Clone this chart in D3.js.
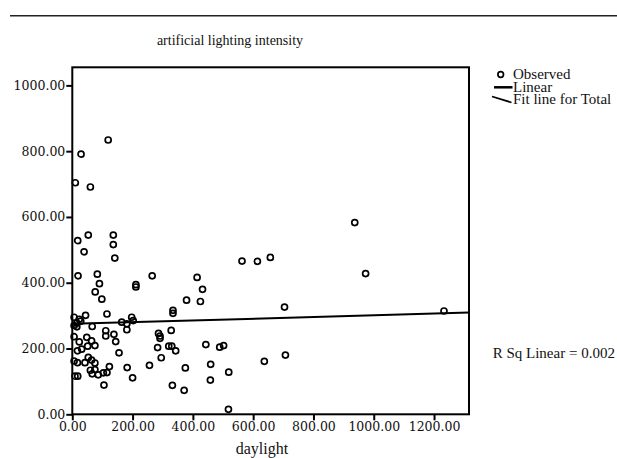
<!DOCTYPE html>
<html>
<head>
<meta charset="utf-8">
<script src="https://cdn.jsdelivr.net/npm/d3@7"></script>
<style>
  body { margin: 0; background: #fff; }
  text { font-family: 'Liberation Serif', serif; fill: #111; }
  .axis text { font-family: 'DejaVu Serif', serif; }
</style>
</head>
<body>
<div id="chart-1"></div>
<script>
// daylight (x) vs artificial lighting intensity (y)
const daylight = [
  119, 29, 10, 60, 18, 53, 136, 136, 39, 141,
  563, 614, 657, 937, 973, 19, 83, 265, 90, 211,
  211, 414, 432, 76, 98, 379, 425, 115, 334, 334,
  704, 1233, 6, 23, 44, 28, 15, 6, 15, 66,
  164, 181, 197, 202, 181, 111, 111, 138, 144, 6,
  23, 48, 64, 75, 31, 51, 17, 155, 6, 17,
  42, 53, 64, 75, 60, 66, 75, 86, 103, 115,
  123, 9, 18, 105, 182, 200, 256, 286, 291, 291,
  328, 283, 320, 330, 343, 295, 332, 371, 375, 443,
  489, 502, 459, 458, 519, 637, 707, 518
]
const artificial = [
  834, 791, 704, 691, 528, 545, 545, 516, 494, 475,
  466, 465, 477, 583, 428, 421, 426, 421, 397, 394,
  387, 416, 380, 372, 350, 347, 343, 305, 316, 307,
  326, 314, 295, 289, 301, 283, 277, 270, 266, 267,
  280, 275, 295, 285, 257, 254, 238, 243, 221, 236,
  220, 234, 223, 209, 198, 207, 193, 187, 162, 157,
  157, 173, 165, 156, 134, 123, 136, 120, 126, 127,
  145, 116, 116, 89, 142, 111, 149, 246, 238, 231,
  255, 203, 207, 207, 193, 172, 88, 73, 141, 212,
  204, 209, 152, 104, 128, 161, 180, 15
]

// linear fit
const fitIntercept = 275
const fitSlope = 0.026

const xTicks = [0, 200, 400, 600, 800, 1000, 1200]
const yTicks = [0, 200, 400, 600, 800, 1000]
const xDomain = [0, 1316]
const yDomain = [0, 1055]

const legendLabels = ['Observed', 'Linear', 'Fit line for Total']

const margin = { top: 67.3, right: 148, bottom: 43.7, left: 72.3 }
const width = 617 - margin.left - margin.right
const height = 458 - margin.top - margin.bottom

const root = d3
  .select('#chart-1')
  .append('svg')
  .attr('width', 617)
  .attr('height', 458)

// rule across the top
root
  .append('line')
  .attr('x1', 10)
  .attr('x2', 617)
  .attr('y1', 15.7)
  .attr('y2', 15.7)
  .attr('stroke', '#222')
  .attr('stroke-width', 1.5)

const svg = root
  .append('g')
  .attr('transform', 'translate(' + margin.left + ',' + margin.top + ')')

const xPositionScale = d3.scaleLinear().domain(xDomain).range([0, width])
const yPositionScale = d3.scaleLinear().domain(yDomain).range([height, 0])

svg
  .append('text')
  .attr('font-size', 14)
  .attr('text-anchor', 'middle')
  .attr('x', 230 - margin.left)
  .attr('y', 44.5 - margin.top)
  .text('artificial lighting intensity')

const points = daylight.map((d, i) => ({ x: d, y: artificial[i] }))

svg
  .selectAll('.observed')
  .data(points)
  .enter()
  .append('circle')
  .attr('class', 'observed')
  .attr('cx', d => xPositionScale(d.x))
  .attr('cy', d => yPositionScale(d.y))
  .attr('r', 3)
  .attr('fill', 'none')
  .attr('stroke', '#000')
  .attr('stroke-width', 1.7)

svg
  .append('line')
  .attr('class', 'fit-line')
  .attr('x1', xPositionScale(xDomain[0]))
  .attr('y1', yPositionScale(fitIntercept + fitSlope * xDomain[0]))
  .attr('x2', xPositionScale(xDomain[1]))
  .attr('y2', yPositionScale(fitIntercept + fitSlope * xDomain[1]))
  .attr('stroke', '#000')
  .attr('stroke-width', 2)

// frame
svg
  .append('rect')
  .attr('x', 0)
  .attr('y', 0)
  .attr('width', width)
  .attr('height', height)
  .attr('fill', 'none')
  .attr('stroke', '#000')
  .attr('stroke-width', 2)

const yAxis = d3
  .axisLeft(yPositionScale)
  .tickValues(yTicks)
  .tickFormat(d3.format('.2f'))
  .tickSize(6)
  .tickPadding(1)
svg
  .append('g')
  .attr('class', 'axis y-axis')
  .call(yAxis)

const xAxis = d3
  .axisBottom(xPositionScale)
  .tickValues(xTicks)
  .tickFormat(d3.format('.2f'))
  .tickSize(6)
  .tickPadding(2)
svg
  .append('g')
  .attr('class', 'axis x-axis')
  .attr('transform', 'translate(0,' + height + ')')
  .call(xAxis)

svg.selectAll('.axis .domain').remove()
svg
  .selectAll('.axis line')
  .attr('stroke', '#000')
  .attr('stroke-width', 2)
svg
  .selectAll('.axis text')
  .style('font-size', '12.5px')
  .attr('fill', '#111')

svg
  .append('text')
  .attr('font-size', 16)
  .attr('text-anchor', 'middle')
  .attr('x', 262 - margin.left)
  .attr('y', 454 - margin.top)
  .text('daylight')

// legend
const legend = root.append('g').attr('transform', 'translate(513,0)')
const legendY = [79, 91.5, 104]

legend
  .selectAll('.legend-text')
  .data(legendLabels)
  .enter()
  .append('text')
  .attr('class', 'legend-text')
  .attr('font-size', 15)
  .attr('x', 0)
  .attr('y', (d, i) => legendY[i])
  .text(d => d)

legend
  .append('circle')
  .attr('cx', -12.3)
  .attr('cy', 74.5)
  .attr('r', 2.8)
  .attr('fill', 'none')
  .attr('stroke', '#000')
  .attr('stroke-width', 1.7)

legend
  .append('line')
  .attr('x1', -19)
  .attr('x2', -0.5)
  .attr('y1', 87.3)
  .attr('y2', 87.3)
  .attr('stroke', '#000')
  .attr('stroke-width', 2.5)

legend
  .append('line')
  .attr('x1', -21)
  .attr('x2', -1.5)
  .attr('y1', 96.5)
  .attr('y2', 102.5)
  .attr('stroke', '#000')
  .attr('stroke-width', 1.8)

root
  .append('text')
  .attr('font-size', 15)
  .attr('x', 492.7)
  .attr('y', 358)
  .text('R Sq Linear = 0.002')
</script>
</body>
</html>
